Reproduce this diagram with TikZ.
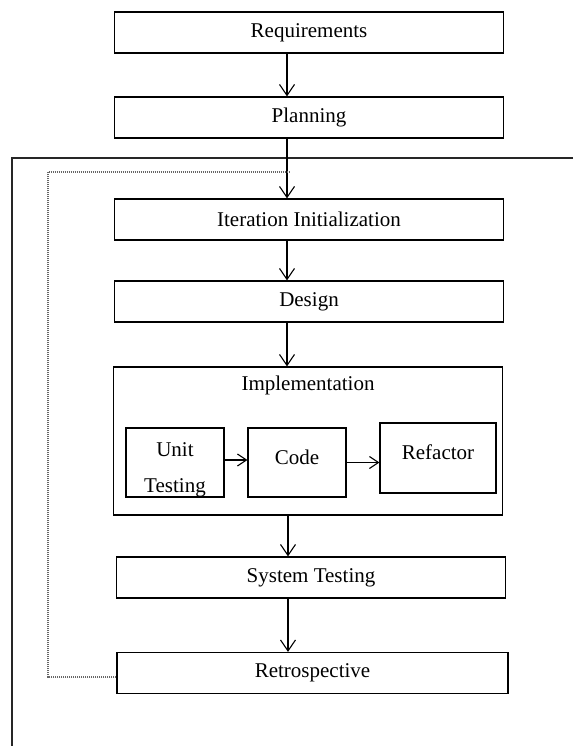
\documentclass[tikz,border=0pt]{standalone}
\usepackage{fontspec}
\setmainfont{Liberation Serif}
\usetikzlibrary{arrows.meta}
\begin{document}
\begin{tikzpicture}[x=1pt,y=-1pt,
  box/.style={draw=black, line width=1.2pt, inner sep=0pt, minimum height=41pt, minimum width=389pt, font=\fontsize{21}{25}\selectfont},
  subbox/.style={draw=black, line width=1.2pt, inner sep=0pt, minimum width=98pt, minimum height=69pt},
  arr/.style={line width=1.1pt, -{Straight Barb[length=11pt,width=15pt,line width=1.1pt]}},
  smallarr/.style={line width=1.1pt, -{Straight Barb[length=9pt,width=12pt,line width=1.1pt]}},
  frame/.style={line width=1.3pt, black!85},
  feedback/.style={draw=black!60, line width=1.1pt, dash pattern=on 1pt off 1pt},
  lbl/.style={font=\fontsize{21}{25}\selectfont, inner sep=0pt}]
\useasboundingbox (0,0) rectangle (573,746);

% outer iteration frame
\draw[frame] (573,158) -- (12,158) -- (12,746);

% main phases
\node[box] (req) at (309,32.5) {Requirements};
\node[box] (plan) at (309,117.5) {Planning};
\node[box] (iter) at (309,219.5) {Iteration Initialization};
\node[box] (design) at (309,301.5) {Design};
\node[box, minimum height=148pt] (impl) at (308,441) {};
\node[lbl] (impltitle) at (308,385) {Implementation};
\node[box] (sys) at (311,577.5) {System Testing};
\node[box, minimum width=391pt] (retro) at (312.5,673) {Retrospective};

% implementation sub-steps
\node[subbox] (unit) at (175,462.5) {};
\begin{scope}
  \clip (unit.south west) rectangle (unit.north east);
  \node[lbl, align=center, font=\fontsize{21}{36}\selectfont] (unittxt) at (175,469.5) {Unit\\Testing};
\end{scope}
\node[subbox] (code) at (297,462.5) {};
\node[lbl] (codetxt) at (297,457) {Code};
\node[subbox, minimum width=116pt, minimum height=70pt] (refac) at (438,458) {};
\node[lbl] (refactxt) at (438,452) {Refactor};

% vertical flow
\coordinate (ax) at (287,0);
\coordinate (bx) at (288,0);
\draw[arr] (req.south -| ax) -- (plan.north -| ax);
\draw[arr] (plan.south -| ax) -- (iter.north -| ax);
\draw[arr] (iter.south -| ax) -- (design.north -| ax);
\draw[arr] (design.south -| ax) -- (impl.north -| ax);
\draw[arr] (impl.south -| bx) -- (sys.north -| bx);
\draw[arr] (sys.south -| bx) -- (retro.north -| bx);

% flow inside implementation
\draw[smallarr] ([yshift=2.5pt]unit.east) -- ([yshift=2.5pt]code.west);
\draw[smallarr] (code.east) -- (code.east -| refac.west);

% feedback loop from retrospective back to the iteration start
\coordinate (d1) at (48,677);
\coordinate (d2) at (48,172);
\coordinate (d3) at (289,172);
\draw[feedback] (d1 -| retro.west) -- (d1) -- (d2) -- (d3);
\end{tikzpicture}
\end{document}
